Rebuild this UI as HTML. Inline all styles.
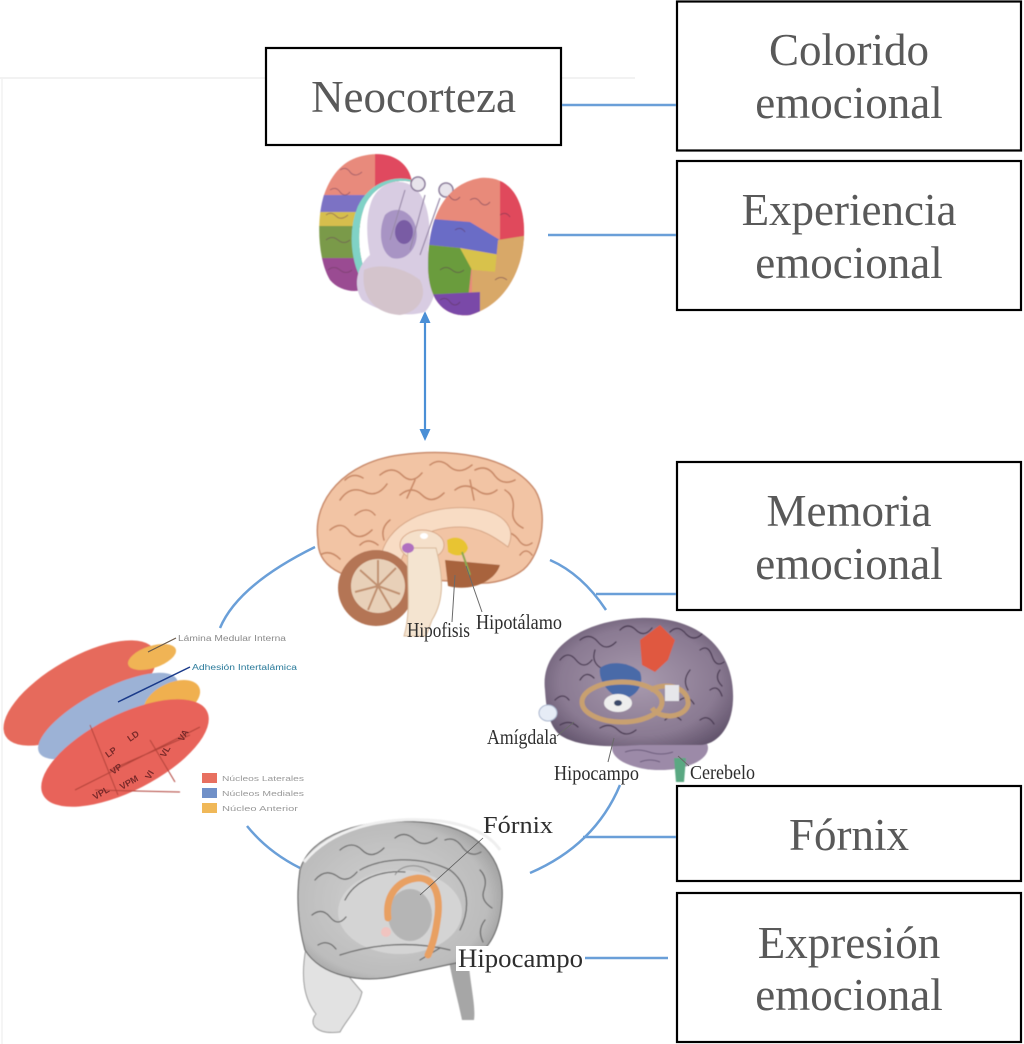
<!DOCTYPE html>
<html>
<head>
<meta charset="utf-8">
<style>
  html,body{margin:0;padding:0;background:#fff;}
  body{width:1024px;height:1044px;overflow:hidden;}
  svg{display:block;}
  .bx{fill:#fff;stroke:#000;stroke-width:2.2;}
  .bt{font-family:"Liberation Serif",serif;font-size:45px;fill:#595959;text-anchor:middle;}
  .lb{font-family:"Liberation Serif",serif;fill:#2e2e2e;}
  .cn{stroke:#6a9fd8;stroke-width:2.5;fill:none;}
  .gy{stroke:#c98a68;stroke-width:1.6;fill:none;stroke-linecap:round;}
  .pg{stroke:#4a3a52;stroke-width:1.3;fill:none;stroke-linecap:round;}
  .hg{stroke:#6a6a6a;stroke-width:1.3;fill:none;stroke-linecap:round;}
</style>
</head>
<body>
<svg width="1024" height="1044" viewBox="0 0 1024 1044" xmlns="http://www.w3.org/2000/svg">
  <defs>
    <clipPath id="lh"><path d="M362 156 C385 150 408 158 412 182 C395 178 375 185 365 205 C355 230 358 265 372 285 C360 295 340 292 330 280 C318 260 316 220 324 195 C332 172 345 160 362 156 Z"/></clipPath>
    <clipPath id="rh"><path d="M480 178 C510 175 525 200 524 235 C523 270 505 305 470 315 C440 318 428 295 428 265 C428 225 440 185 480 178 Z"/></clipPath>
    <clipPath id="pb"><path d="M545 690 C540 650 580 620 640 618 C700 616 735 650 733 700 C732 730 715 745 700 745 L640 745 C600 748 575 745 560 735 C548 725 546 705 545 690 Z"/></clipPath>
    <clipPath id="sb"><path d="M318 540 C312 500 345 462 400 455 C450 448 510 455 535 490 C550 515 540 560 520 572 C505 582 485 585 470 582 L430 580 C400 585 360 585 335 570 C322 562 318 552 318 540 Z"/></clipPath>
    <radialGradient id="pgr" cx="0.5" cy="0.5" r="0.6">
      <stop offset="0" stop-color="#a89aae"/><stop offset="0.7" stop-color="#8a7a92"/><stop offset="1" stop-color="#62546c"/>
    </radialGradient>
    <radialGradient id="hgr" cx="0.45" cy="0.5" r="0.6">
      <stop offset="0" stop-color="#d2d2d2"/><stop offset="0.8" stop-color="#bcbcbc"/><stop offset="1" stop-color="#9a9a9a"/>
    </radialGradient>
    <linearGradient id="red1" x1="0" y1="0" x2="1" y2="0">
      <stop offset="0" stop-color="#e4685a"/><stop offset="1" stop-color="#ee7a66"/>
    </linearGradient>
    <filter id="soft"><feGaussianBlur stdDeviation="0.6"/></filter>
  </defs>

  <!-- faint background frame -->
  <line x1="0" y1="78" x2="635" y2="78" stroke="#eeeeee" stroke-width="1.5"/>
  <line x1="2" y1="78" x2="2" y2="1044" stroke="#f2f2f2" stroke-width="1.5"/>

  <!-- ========== Boxes ========== -->
  <rect class="bx" x="266" y="48" width="295" height="97"/>
  <text class="bt" x="413.5" y="112">Neocorteza</text>

  <rect class="bx" x="677" y="1.5" width="344" height="149"/>
  <text class="bt" x="849" y="65">Colorido</text>
  <text class="bt" x="849" y="118">emocional</text>

  <rect class="bx" x="677" y="161" width="344" height="149"/>
  <text class="bt" x="849" y="225">Experiencia</text>
  <text class="bt" x="849" y="278">emocional</text>

  <rect class="bx" x="677" y="462" width="344" height="148"/>
  <text class="bt" x="849" y="526">Memoria</text>
  <text class="bt" x="849" y="579">emocional</text>

  <rect class="bx" x="677" y="786" width="344" height="95"/>
  <text class="bt" x="849" y="850">Fórnix</text>

  <rect class="bx" x="677" y="893" width="344" height="149"/>
  <text class="bt" x="849" y="958">Expresión</text>
  <text class="bt" x="849" y="1010">emocional</text>

  <!-- ========== Connectors ========== -->
  <path class="cn" d="M562 105 L676 105"/>
  <path class="cn" d="M548 235 L676 235"/>
  <path class="cn" d="M220 628 Q238 585 315 547"/>
  <path class="cn" d="M550 560 Q582 574 606 610"/>
  <path class="cn" d="M596 594 L676 594"/>
  <path class="cn" d="M620 785 Q595 845 530 873"/>
  <path class="cn" d="M583 837 L676 837"/>
  <path class="cn" d="M247 826 Q268 852 300 868"/>
  <path class="cn" d="M585 958 L668 958"/>
  <!-- vertical double arrow -->
  <line x1="425" y1="320" x2="425" y2="432" stroke="#4a8fd6" stroke-width="2.2"/>
  <polygon points="425,311 419.5,323 430.5,323" fill="#4a8fd6"/>
  <polygon points="425,441 419.5,429 430.5,429" fill="#4a8fd6"/>

  <!-- ========== Top neocortex brain ========== -->
  <g filter="url(#soft)">
    <!-- left hemisphere crescent -->
    <g clip-path="url(#lh)">
      <rect x="310" y="148" width="110" height="50" fill="#e88a7c"/>
      <rect x="375" y="148" width="45" height="40" fill="#e0485e"/>
      <rect x="310" y="195" width="110" height="18" fill="#7c72c4"/>
      <rect x="310" y="212" width="110" height="15" fill="#d6be4e"/>
      <rect x="310" y="226" width="110" height="33" fill="#7a9a4a"/>
      <rect x="310" y="258" width="110" height="45" fill="#9a4c92"/>
      <path d="M410 184 C392 180 372 188 362 208 C352 232 355 265 370 285" stroke="#80d2c6" stroke-width="9" fill="none"/>
      <path d="M330 190 q6 -4 10 2 q5 6 10 0 M326 240 q6 -5 12 0 q6 5 12 0 M328 270 q6 -5 12 0 q6 5 12 0 M340 170 q6 -4 10 2 q5 6 12 0 M326 215 q5 -4 10 1 q5 5 12 -1" stroke="#6a3a5a" stroke-width="1" fill="none" opacity="0.5"/>
    </g>
    <!-- central structures -->
    <path d="M372 200 C380 182 400 176 415 188 C428 200 432 225 428 250 C440 265 440 295 425 312 C405 318 380 312 362 300 C352 285 358 265 370 255 C366 235 366 215 372 200 Z" fill="#d8cce2"/>
    <path d="M385 215 C395 205 412 210 416 228 C420 245 408 262 392 258 C380 252 378 230 385 215 Z" fill="#a894c4"/>
    <ellipse cx="404" cy="232" rx="9" ry="12" fill="#6a4a9a" opacity="0.75"/>
    <path d="M364 270 C380 262 405 268 420 280 C428 295 420 312 400 315 C380 314 360 302 364 270 Z" fill="#d4c4cc"/>
    <circle cx="418" cy="184" r="7" fill="#e8e4ec" stroke="#8a7a9a" stroke-width="1.5"/>
    <circle cx="446" cy="190" r="7" fill="#e8e4ec" stroke="#8a7a9a" stroke-width="1.5"/>
    <path d="M405 190 L390 240 M425 195 L410 250 M440 198 L420 255" stroke="#9a8aaa" stroke-width="1.2" fill="none"/>
    <!-- right hemisphere -->
    <g clip-path="url(#rh)">
      <rect x="420" y="170" width="110" height="150" fill="#e88a7a"/>
      <rect x="500" y="170" width="30" height="70" fill="#e0485c"/>
      <path d="M420 218 L470 222 L500 240 L500 255 L460 248 L420 244 Z" fill="#6a6cc6"/>
      <path d="M420 244 L460 248 L472 262 L468 300 L420 300 Z" fill="#6a9c3e"/>
      <path d="M460 248 L500 255 L495 272 L472 270 Z" fill="#d8c24c"/>
      <path d="M498 240 L530 235 L530 320 L472 320 L472 270 L495 272 Z" fill="#d8a868"/>
      <path d="M420 295 L480 292 L480 320 L420 320 Z" fill="#7a4aa8"/>
      <path d="M440 195 q6 -4 10 2 q5 6 10 0 M470 200 q6 -4 10 2 q5 6 10 0 M440 270 q6 -5 12 0 q6 5 12 0 M495 280 q6 -5 12 0 M500 215 q6 -4 10 2 M455 230 q6 -4 10 2 M440 300 q6 -4 10 2 q5 6 10 0" stroke="#5a3050" stroke-width="1" fill="none" opacity="0.5"/>
    </g>
  </g>

  <!-- ========== Sagittal brain ========== -->
  <g filter="url(#soft)">
    <path d="M318 540 C312 500 345 462 400 455 C450 448 510 455 535 490 C550 515 540 560 520 572 C505 582 485 585 470 582 L430 580 C400 585 360 585 335 570 C322 562 318 552 318 540 Z" fill="#f2c4a4" stroke="#c98a6a" stroke-width="1.5"/>
    <g clip-path="url(#sb)">
      <path class="gy" d="M340 500 q10 -15 25 -8 q12 6 22 -8 M380 475 q12 -10 22 0 q10 10 20 -2 M430 465 q10 -8 20 2 q10 8 22 -2 M475 470 q12 -6 20 6 q8 10 20 4 M505 490 q10 6 8 20 q-2 12 10 18 M330 530 q12 -10 20 2 q10 10 22 -2 M355 515 q12 -10 20 0 M400 495 q12 -10 22 0 q10 10 22 -2 M455 490 q10 -8 22 0 q10 8 20 0 M500 535 q10 -6 18 4 q6 10 14 4 M320 555 q10 -6 20 4 M345 480 q8 -8 18 -2 M360 545 q8 -8 18 0 M520 555 q6 -8 12 0 M415 480 l-8 18 M470 480 l4 20 M390 520 q-10 8 -6 20"/>
    </g>
    <path d="M380 562 C384 522 430 505 470 508 C500 510 518 525 508 547 C496 538 480 527 460 527 C430 527 405 540 400 565 Z" fill="#f8dcc4" stroke="#d8a888" stroke-width="1"/>
    <ellipse cx="422" cy="545" rx="22" ry="15" fill="#f5e0ca" stroke="#d8a888" stroke-width="1"/>
    <ellipse cx="424" cy="536" rx="4" ry="3" fill="#fff"/>
    <path d="M445 560 L500 565 C495 582 470 592 448 586 Z" fill="#a8643c"/>
    <circle cx="376" cy="588" r="38" fill="#b47454"/>
    <circle cx="378" cy="586" r="27" fill="#e8d0b8"/>
    <path d="M378 586 L360 570 M378 586 L396 568 M378 586 L355 592 M378 586 L400 594 M378 586 L368 610 M378 586 L392 610 M378 586 L378 560" stroke="#c09070" stroke-width="2"/>
    <path d="M408 548 L436 548 C442 572 446 598 432 620 L426 636 L404 636 C412 610 406 575 408 548 Z" fill="#f4e4d0" stroke="#d8b898" stroke-width="1"/>
    <path d="M447 540 C455 535 466 538 468 548 C466 556 456 558 448 552 Z" fill="#e8c432"/>
    <ellipse cx="408" cy="548" rx="6" ry="5" fill="#b070c0"/>
    <path d="M462 552 L470 575" stroke="#8aa850" stroke-width="2"/>
  </g>
  <path d="M455 575 L452 622" stroke="#6a6a6a" stroke-width="1"/>
  <path d="M466 566 L482 612" stroke="#6a6a6a" stroke-width="1"/>
  <text class="lb" x="407" y="637" font-size="21" textLength="63" lengthAdjust="spacingAndGlyphs">Hipofisis</text>
  <text class="lb" x="476" y="629" font-size="21" textLength="86" lengthAdjust="spacingAndGlyphs">Hipotálamo</text>

  <!-- ========== Thalamus ========== -->
  <g filter="url(#soft)">
    <ellipse cx="80" cy="693" rx="86" ry="35" transform="rotate(-30 80 693)" fill="#e66a5c"/>
    <ellipse cx="152" cy="657" rx="25" ry="11" transform="rotate(-18 152 657)" fill="#f0b454"/>
    <ellipse cx="108" cy="716" rx="78" ry="26" transform="rotate(-28 108 716)" fill="#9cb2d6"/>
    <ellipse cx="172" cy="700" rx="30" ry="17" transform="rotate(-25 172 700)" fill="#f0b050"/>
    <ellipse cx="125" cy="753" rx="92" ry="38" transform="rotate(-27 125 753)" fill="#e8645a"/>
    <path d="M75 790 L200 727 M90 725 L118 795 M150 740 L175 782 M110 770 L190 735 M95 790 L180 792" stroke="#b04038" stroke-width="1" fill="none"/>
  </g>
  <g font-family="Liberation Sans, sans-serif" font-size="9" font-weight="bold" fill="#7a2a2a">
    <text x="108" y="758" transform="rotate(-35 108 758)">LP</text>
    <text x="130" y="742" transform="rotate(-35 130 742)">LD</text>
    <text x="113" y="775" transform="rotate(-35 113 775)">VP</text>
    <text x="165" y="758" transform="rotate(-60 165 758)">VL</text>
    <text x="183" y="742" transform="rotate(-60 183 742)">VA</text>
    <text x="95" y="800" transform="rotate(-30 95 800)">VPL</text>
    <text x="122" y="790" transform="rotate(-30 122 790)">VPM</text>
    <text x="150" y="780" transform="rotate(-60 150 780)">VI</text>
  </g>
  <line x1="176" y1="638" x2="148" y2="652" stroke="#6a5a4a" stroke-width="1.2"/>
  <line x1="190" y1="667" x2="118" y2="702" stroke="#1a3a8a" stroke-width="1.5"/>
  <text x="178" y="641" font-family="Liberation Sans, sans-serif" font-size="8" fill="#8a8a8a" textLength="108" lengthAdjust="spacingAndGlyphs">Lámina Medular Interna</text>
  <text x="192" y="670" font-family="Liberation Sans, sans-serif" font-size="8" fill="#2a7a9a" textLength="105" lengthAdjust="spacingAndGlyphs">Adhesión Intertalámica</text>
  <rect x="202" y="773" width="15" height="10" fill="#e87060"/>
  <rect x="202" y="788" width="15" height="10" fill="#7090c8"/>
  <rect x="202" y="803" width="15" height="10" fill="#f0b858"/>
  <g font-family="Liberation Sans, sans-serif" font-size="7.5" fill="#9a9a9a">
    <text x="222" y="781" textLength="82" lengthAdjust="spacingAndGlyphs">Núcleos Laterales</text>
    <text x="222" y="796" textLength="82" lengthAdjust="spacingAndGlyphs">Núcleos Mediales</text>
    <text x="222" y="811" textLength="76" lengthAdjust="spacingAndGlyphs">Núcleo Anterior</text>
  </g>

  <!-- ========== Purple brain ========== -->
  <g filter="url(#soft)">
    <ellipse cx="660" cy="748" rx="48" ry="22" fill="#9c8aa8"/>
    <path d="M640 742 q10 -4 20 0 q10 4 20 0 M625 752 q12 -4 24 0 q12 4 24 0 M640 762 q10 -4 20 0" stroke="#6a5a7a" stroke-width="1" fill="none"/>
    <path d="M674 758 L686 758 L684 782 L676 782 Z" fill="#5aa882"/>
    <path d="M545 690 C540 650 580 620 640 618 C700 616 735 650 733 700 C732 730 715 745 700 745 L640 745 C600 748 575 745 560 735 C548 725 546 705 545 690 Z" fill="url(#pgr)"/>
    <g clip-path="url(#pb)">
      <path class="pg" d="M560 660 q8 -10 16 0 q8 10 16 0 M580 640 q10 -8 18 2 q8 10 18 0 M620 630 q8 -8 16 0 q8 8 16 -2 M670 632 q8 -8 16 2 q8 8 16 0 M700 650 q8 -6 12 6 q4 12 12 6 M710 690 q8 -6 12 6 M700 720 q8 -6 14 4 M555 700 q8 -8 14 0 M560 725 q10 -6 18 2 M580 680 q6 -10 14 -2 M690 670 q-8 10 -2 20 M720 670 q-6 8 2 16 M600 728 q10 -6 18 2 q8 8 18 0 M665 720 q8 -8 16 0 M595 650 q-4 12 6 18 M680 700 q8 -6 14 4"/>
      <path d="M640 640 L660 625 L675 640 L668 660 L655 672 L642 665 Z" fill="#e05840"/>
      <path d="M600 668 C610 660 630 662 640 672 C645 685 635 700 620 698 C608 694 598 680 600 668 Z" fill="#4a6aa8"/>
      <ellipse cx="622" cy="702" rx="40" ry="20" fill="none" stroke="#c8a070" stroke-width="5"/>
      <path d="M650 690 C670 680 690 690 688 705 C684 718 660 720 652 708" fill="none" stroke="#c8a070" stroke-width="5"/>
      <ellipse cx="618" cy="703" rx="14" ry="9" fill="#eeeeee"/>
      <ellipse cx="618" cy="703" rx="4" ry="3" fill="#3a4a6a"/>
      <rect x="665" y="685" width="14" height="16" fill="#e6e6ea"/>
    </g>
    <ellipse cx="548" cy="713" rx="9" ry="8" fill="#e6ecf6" stroke="#a8b4cc" stroke-width="1"/>
  </g>
  <path d="M557 736 L574 722" stroke="#6a6a6a" stroke-width="1"/>
  <path d="M608 762 L614 738" stroke="#6a6a6a" stroke-width="1"/>
  <path d="M689 766 L678 756" stroke="#6a6a6a" stroke-width="1"/>
  <text class="lb" x="487" y="744" font-size="21" textLength="70" lengthAdjust="spacingAndGlyphs">Amígdala</text>
  <text class="lb" x="554" y="780" font-size="21" textLength="85" lengthAdjust="spacingAndGlyphs">Hipocampo</text>
  <text class="lb" x="690" y="779" font-size="20" textLength="65" lengthAdjust="spacingAndGlyphs">Cerebelo</text>

  <!-- ========== Gray head ========== -->
  <g filter="url(#soft)">
    <path d="M306 948 C300 980 305 1000 316 1014 C308 1024 316 1035 340 1032 C346 1020 358 1010 362 992 L345 972 Z" fill="#e2e2e2" stroke="#9a9a9a" stroke-width="1"/>
    <path d="M448 955 L468 955 C470 985 476 1005 474 1020 L462 1020 C458 1000 452 980 448 955 Z" fill="#a6a6a6"/>
    <path d="M300 870 C310 835 360 818 420 822 C480 826 505 860 502 900 C500 930 490 950 470 960 L400 975 C360 985 320 975 305 950 C298 925 296 895 300 870 Z" fill="url(#hgr)" stroke="#6a6a6a" stroke-width="1.2"/>
    <path d="M304 862 C330 830 380 815 440 821 C470 825 490 835 500 850" stroke="#efefef" stroke-width="3" fill="none"/>
    <ellipse cx="400" cy="912" rx="62" ry="42" fill="#d4d4d4"/>
    <path class="hg" d="M315 880 q10 -12 22 -4 q10 8 20 -4 M340 850 q12 -10 22 0 q10 10 22 -2 M395 838 q10 -8 20 2 q10 8 22 -2 M445 840 q10 -4 18 8 q8 10 18 4 M480 870 q8 8 4 20 q-4 10 8 18 M312 915 q10 -8 18 2 q8 10 16 0 M318 945 q10 -6 18 4 M485 920 q-8 10 -2 22 M360 870 C380 858 420 855 450 870 C470 885 470 910 460 930 M345 900 C355 880 380 870 405 872 M340 955 C370 945 410 940 450 950 M420 960 l20 -12"/>
    <path d="M395 875 C400 865 418 862 430 872" stroke="#888" stroke-width="1" fill="none"/>
    <ellipse cx="410" cy="915" rx="22" ry="26" fill="#a8a8a8" opacity="0.7"/>
    <path d="M388 918 C385 895 398 880 418 878 C435 878 440 895 438 915 C436 930 434 942 428 955" stroke="#e8a062" stroke-width="7" fill="none" stroke-linecap="round"/>
    <circle cx="386" cy="932" r="5" fill="#f0c4c0"/>
  </g>
  <path d="M483 838 L420 895" stroke="#5a5a5a" stroke-width="0.8"/>
  <text class="lb" x="483" y="833" font-size="24" fill="#4a4a4a" textLength="70" lengthAdjust="spacingAndGlyphs">Fórnix</text>
  <rect x="456" y="946" width="128" height="25" fill="#fff"/>
  <text class="lb" x="458" y="967" font-size="26" fill="#4a4a4a" textLength="125" lengthAdjust="spacingAndGlyphs">Hipocampo</text>
</svg>
</body>
</html>
